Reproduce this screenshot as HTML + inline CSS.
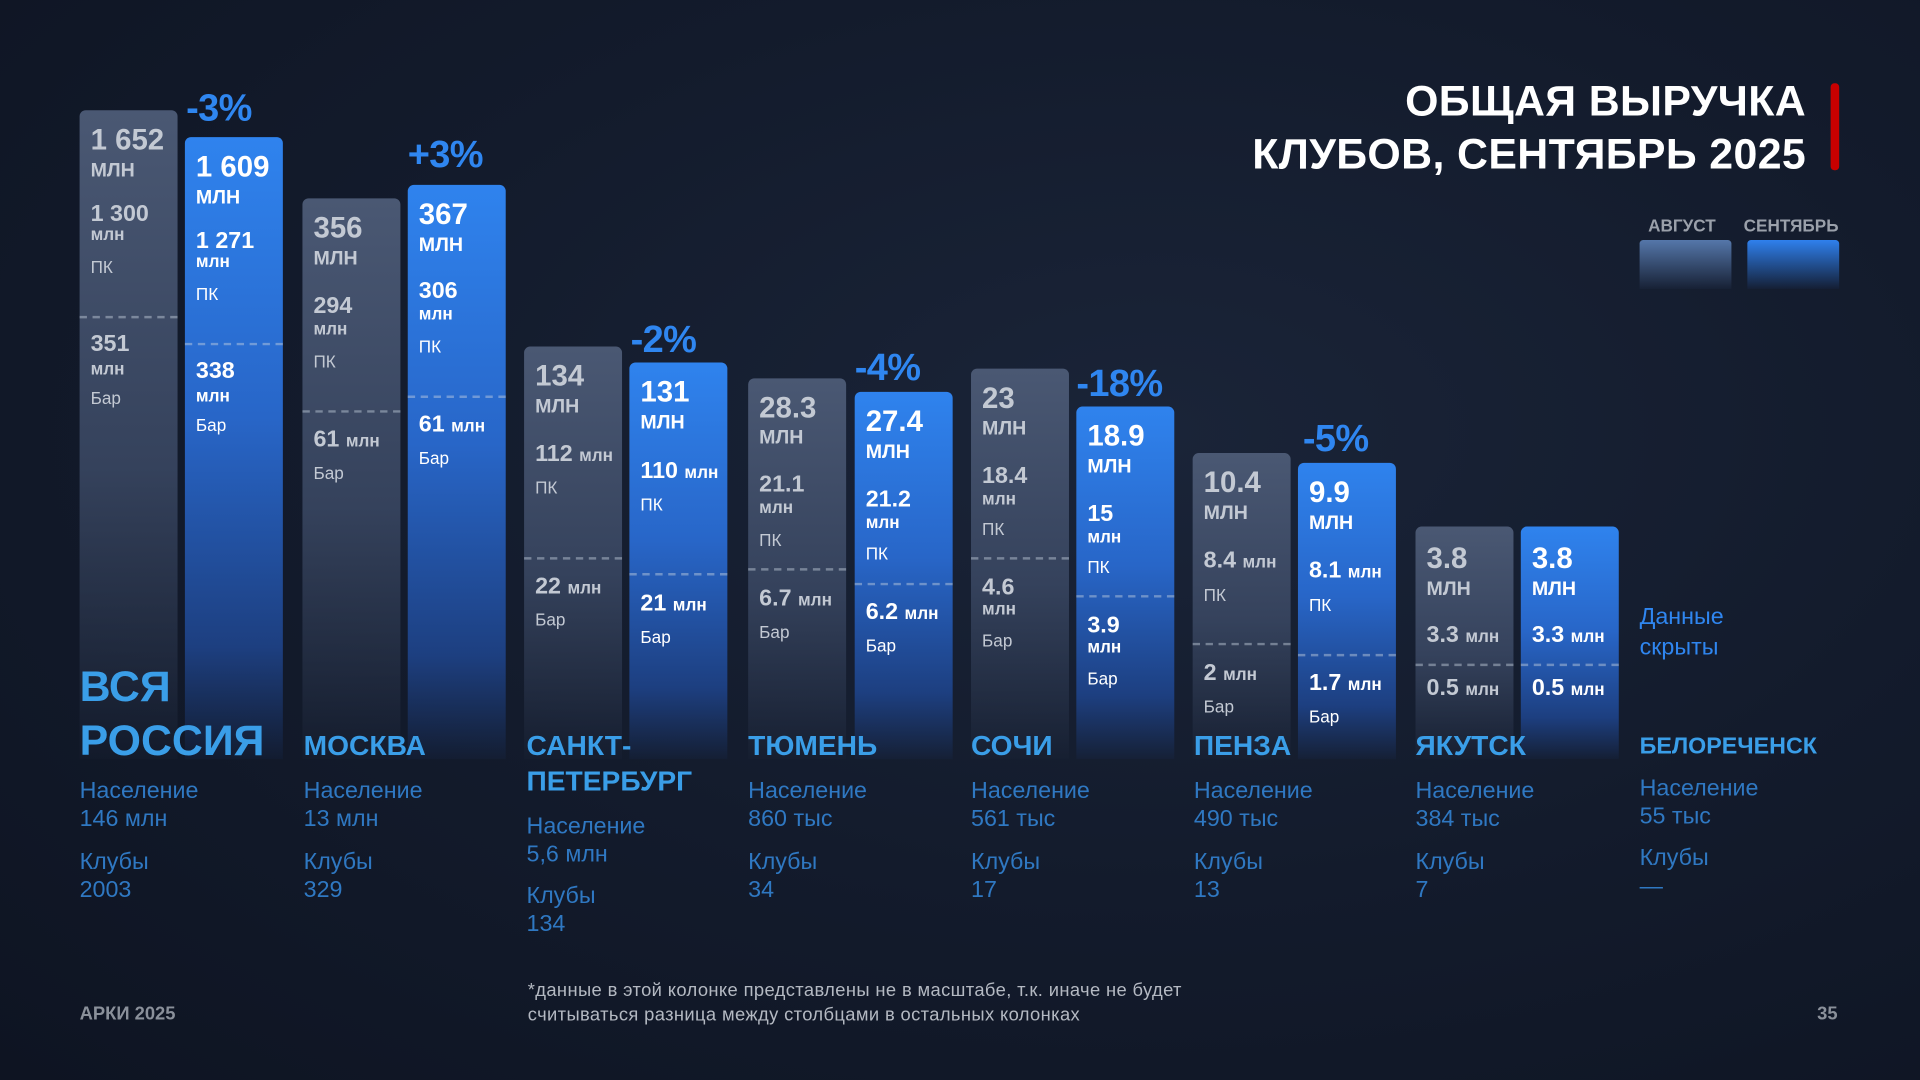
<!DOCTYPE html>
<html><head><meta charset="utf-8"><style>
html,body{margin:0;padding:0;width:1920px;height:1080px;overflow:hidden;background:#111827}
#w{position:absolute;left:0;top:0;width:1568px;height:882px;transform:scale(1.22449);transform-origin:0 0;font-family:"Liberation Sans",sans-serif;
background:radial-gradient(ellipse at 60% 40%,#1a2438 0%,#131b2c 50%,#0e1422 100%)}
.t{position:absolute;transform:translateY(-50%);line-height:1;white-space:nowrap;font-weight:bold}
.g{color:#c3c9d3}.b{color:#fff}
.v{font-size:24px}.u{font-size:16px}.s{font-size:19px}.m{font-size:14px}.r{font-size:14px;font-weight:normal}
.bar{position:absolute;width:80px;border-radius:5px 5px 0 0;bottom:262px}
.gb{background:linear-gradient(#4a5873,#35425c 55%,rgba(30,40,60,0.15))}
.bb{background:linear-gradient(#2f83ee,#2866c8 45%,#1d3f80 82%,rgba(25,50,100,0.12))}
.d{position:absolute;width:80px;height:0;border-top:2px dashed rgba(200,210,225,0.45)}
.p{position:absolute;transform:translateY(-50%);line-height:1;font-weight:bold;font-size:31px;color:#2f86f0;letter-spacing:-0.5px}
.c{position:absolute;transform:translateY(-50%);line-height:1;font-weight:bold;color:#3a9ee8;font-size:23px;white-space:nowrap}
.n{position:absolute;transform:translateY(-50%);line-height:1;color:#2f78c2;font-size:19px;white-space:nowrap}
</style></head><body><div id="w">
<div class="t b" style="right:93px;top:83px;font-size:35px;letter-spacing:0.3px">ОБЩАЯ ВЫРУЧКА</div>
<div class="t b" style="right:93px;top:126px;font-size:35px;letter-spacing:0.3px">КЛУБОВ, СЕНТЯБРЬ 2025</div>
<div style="position:absolute;left:1495px;top:68px;width:7px;height:71px;background:#c80000;border-radius:3px"></div>
<div class="t" style="left:1346px;top:184px;font-size:14px;color:#9aa0aa">АВГУСТ</div>
<div class="t" style="left:1424px;top:184px;font-size:14px;color:#9aa0aa">СЕНТЯБРЬ</div>
<div style="position:absolute;left:1339px;top:196px;width:75px;height:40px;border-radius:3px 3px 0 0;background:linear-gradient(#5577aa,rgba(40,60,100,0.1))"></div>
<div style="position:absolute;left:1427px;top:196px;width:75px;height:40px;border-radius:3px 3px 0 0;background:linear-gradient(#2f80ed,rgba(25,50,110,0.1))"></div>

<div class="bar gb" style="left:65px;top:90px"></div><div class="bar bb" style="left:151px;top:112px"></div>
<div class="bar gb" style="left:247px;top:162px"></div><div class="bar bb" style="left:333px;top:151px"></div>
<div class="bar gb" style="left:428px;top:283px"></div><div class="bar bb" style="left:514px;top:296px"></div>
<div class="bar gb" style="left:611px;top:309px"></div><div class="bar bb" style="left:698px;top:320px"></div>
<div class="bar gb" style="left:793px;top:301px"></div><div class="bar bb" style="left:879px;top:332px"></div>
<div class="bar gb" style="left:974px;top:370px"></div><div class="bar bb" style="left:1060px;top:378px"></div>
<div class="bar gb" style="left:1156px;top:430px"></div><div class="bar bb" style="left:1242px;top:430px"></div>

<div class="t g v" style="left:74px;top:115px">1 652</div><div class="t g u" style="left:74px;top:140px">МЛН</div>
<div class="t g s" style="left:74px;top:175px">1 300</div><div class="t g m" style="left:74px;top:191px">млн</div>
<div class="t g r" style="left:74px;top:218px">ПК</div><div class="d" style="left:65px;top:258px"></div>
<div class="t g s" style="left:74px;top:281px">351</div><div class="t g m" style="left:74px;top:301px">млн</div><div class="t g r" style="left:74px;top:325px">Бар</div>
<div class="p" style="left:152px;top:88px">-3%</div>
<div class="t b v" style="left:160px;top:137px">1 609</div><div class="t b u" style="left:160px;top:162px">МЛН</div>
<div class="t b s" style="left:160px;top:197px">1 271</div><div class="t b m" style="left:160px;top:213px">млн</div>
<div class="t b r" style="left:160px;top:240px">ПК</div><div class="d" style="left:151px;top:280px"></div>
<div class="t b s" style="left:160px;top:303px">338</div><div class="t b m" style="left:160px;top:323px">млн</div><div class="t b r" style="left:160px;top:347px">Бар</div>
<div class="t g v" style="left:256px;top:187px">356</div><div class="t g u" style="left:256px;top:212px">МЛН</div>
<div class="t g s" style="left:256px;top:250px">294</div><div class="t g m" style="left:256px;top:268px">млн</div>
<div class="t g r" style="left:256px;top:295px">ПК</div><div class="d" style="left:247px;top:335px"></div>
<div class="t g s" style="left:256px;top:359px">61 <span style="font-size:14px">млн</span></div><div class="t g r" style="left:256px;top:386px">Бар</div>
<div class="p" style="left:333px;top:126px">+3%</div>
<div class="t b v" style="left:342px;top:176px">367</div><div class="t b u" style="left:342px;top:201px">МЛН</div>
<div class="t b s" style="left:342px;top:238px">306</div><div class="t b m" style="left:342px;top:256px">млн</div>
<div class="t b r" style="left:342px;top:283px">ПК</div><div class="d" style="left:333px;top:323px"></div>
<div class="t b s" style="left:342px;top:347px">61 <span style="font-size:14px">млн</span></div><div class="t b r" style="left:342px;top:374px">Бар</div>
<div class="t g v" style="left:437px;top:308px">134</div><div class="t g u" style="left:437px;top:333px">МЛН</div>
<div class="t g s" style="left:437px;top:371px">112 <span style="font-size:14px">млн</span></div>
<div class="t g r" style="left:437px;top:398px">ПК</div><div class="d" style="left:428px;top:455px"></div>
<div class="t g s" style="left:437px;top:479px">22 <span style="font-size:14px">млн</span></div><div class="t g r" style="left:437px;top:506px">Бар</div>
<div class="p" style="left:515px;top:277px">-2%</div>
<div class="t b v" style="left:523px;top:321px">131</div><div class="t b u" style="left:523px;top:346px">МЛН</div>
<div class="t b s" style="left:523px;top:385px">110 <span style="font-size:14px">млн</span></div>
<div class="t b r" style="left:523px;top:412px">ПК</div><div class="d" style="left:514px;top:468px"></div>
<div class="t b s" style="left:523px;top:493px">21 <span style="font-size:14px">млн</span></div><div class="t b r" style="left:523px;top:520px">Бар</div>
<div class="t g v" style="left:620px;top:334px">28.3</div><div class="t g u" style="left:620px;top:358px">МЛН</div>
<div class="t g s" style="left:620px;top:396px">21.1</div><div class="t g m" style="left:620px;top:414px">млн</div>
<div class="t g r" style="left:620px;top:441px">ПК</div><div class="d" style="left:611px;top:464px"></div>
<div class="t g s" style="left:620px;top:489px">6.7 <span style="font-size:14px">млн</span></div><div class="t g r" style="left:620px;top:516px">Бар</div>
<div class="p" style="left:698px;top:300px">-4%</div>
<div class="t b v" style="left:707px;top:345px">27.4</div><div class="t b u" style="left:707px;top:370px">МЛН</div>
<div class="t b s" style="left:707px;top:408px">21.2</div><div class="t b m" style="left:707px;top:426px">млн</div>
<div class="t b r" style="left:707px;top:452px">ПК</div><div class="d" style="left:698px;top:476px"></div>
<div class="t b s" style="left:707px;top:500px">6.2 <span style="font-size:14px">млн</span></div><div class="t b r" style="left:707px;top:527px">Бар</div>
<div class="t g v" style="left:802px;top:326px">23</div><div class="t g u" style="left:802px;top:351px">МЛН</div>
<div class="t g s" style="left:802px;top:389px">18.4</div><div class="t g m" style="left:802px;top:407px">млн</div>
<div class="t g r" style="left:802px;top:432px">ПК</div><div class="d" style="left:793px;top:455px"></div>
<div class="t g s" style="left:802px;top:480px">4.6</div><div class="t g m" style="left:802px;top:497px">млн</div><div class="t g r" style="left:802px;top:523px">Бар</div>
<div class="p" style="left:879px;top:313px">-18%</div>
<div class="t b v" style="left:888px;top:357px">18.9</div><div class="t b u" style="left:888px;top:382px">МЛН</div>
<div class="t b s" style="left:888px;top:420px">15</div><div class="t b m" style="left:888px;top:438px">млн</div>
<div class="t b r" style="left:888px;top:463px">ПК</div><div class="d" style="left:879px;top:486px"></div>
<div class="t b s" style="left:888px;top:511px">3.9</div><div class="t b m" style="left:888px;top:528px">млн</div><div class="t b r" style="left:888px;top:554px">Бар</div>
<div class="t g v" style="left:983px;top:395px">10.4</div><div class="t g u" style="left:983px;top:420px">МЛН</div>
<div class="t g s" style="left:983px;top:458px">8.4 <span style="font-size:14px">млн</span></div>
<div class="t g r" style="left:983px;top:486px">ПК</div><div class="d" style="left:974px;top:525px"></div>
<div class="t g s" style="left:983px;top:550px">2 <span style="font-size:14px">млн</span></div><div class="t g r" style="left:983px;top:577px">Бар</div>
<div class="p" style="left:1064px;top:358px">-5%</div>
<div class="t b v" style="left:1069px;top:403px">9.9</div><div class="t b u" style="left:1069px;top:428px">МЛН</div>
<div class="t b s" style="left:1069px;top:466px">8.1 <span style="font-size:14px">млн</span></div>
<div class="t b r" style="left:1069px;top:494px">ПК</div><div class="d" style="left:1060px;top:534px"></div>
<div class="t b s" style="left:1069px;top:558px">1.7 <span style="font-size:14px">млн</span></div><div class="t b r" style="left:1069px;top:585px">Бар</div>
<div class="t g v" style="left:1165px;top:457px">3.8</div><div class="t g u" style="left:1165px;top:482px">МЛН</div>
<div class="t g s" style="left:1165px;top:519px">3.3 <span style="font-size:14px">млн</span></div>
<div class="d" style="left:1156px;top:542px"></div>
<div class="t g s" style="left:1165px;top:562px">0.5 <span style="font-size:14px">млн</span></div>
<div class="t b v" style="left:1251px;top:457px">3.8</div><div class="t b u" style="left:1251px;top:482px">МЛН</div>
<div class="t b s" style="left:1251px;top:519px">3.3 <span style="font-size:14px">млн</span></div>
<div class="d" style="left:1242px;top:542px"></div>
<div class="t b s" style="left:1251px;top:562px">0.5 <span style="font-size:14px">млн</span></div>
<div class="t" style="left:1339px;top:504px;font-size:19px;color:#2f86f0;font-weight:normal">Данные</div>
<div class="t" style="left:1339px;top:529px;font-size:19px;color:#2f86f0;font-weight:normal">скрыты</div>

<div class="c" style="left:65px;top:561px;font-size:35px">ВСЯ</div>
<div class="c" style="left:65px;top:605px;font-size:35px">РОССИЯ</div>
<div class="n" style="left:65px;top:646px">Население</div><div class="n" style="left:65px;top:669px">146 млн</div>
<div class="n" style="left:65px;top:704px">Клубы</div><div class="n" style="left:65px;top:727px">2003</div>
<div class="c" style="left:248px;top:609px">МОСКВА</div>
<div class="n" style="left:248px;top:646px">Население</div><div class="n" style="left:248px;top:669px">13 млн</div>
<div class="n" style="left:248px;top:704px">Клубы</div><div class="n" style="left:248px;top:727px">329</div>
<div class="c" style="left:430px;top:609px">САНКТ-</div><div class="c" style="left:430px;top:638px">ПЕТЕРБУРГ</div>
<div class="n" style="left:430px;top:675px">Население</div><div class="n" style="left:430px;top:698px">5,6 млн</div>
<div class="n" style="left:430px;top:732px">Клубы</div><div class="n" style="left:430px;top:755px">134</div>
<div class="c" style="left:611px;top:609px">ТЮМЕНЬ</div>
<div class="n" style="left:611px;top:646px">Население</div><div class="n" style="left:611px;top:669px">860 тыс</div>
<div class="n" style="left:611px;top:704px">Клубы</div><div class="n" style="left:611px;top:727px">34</div>
<div class="c" style="left:793px;top:609px">СОЧИ</div>
<div class="n" style="left:793px;top:646px">Население</div><div class="n" style="left:793px;top:669px">561 тыс</div>
<div class="n" style="left:793px;top:704px">Клубы</div><div class="n" style="left:793px;top:727px">17</div>
<div class="c" style="left:975px;top:609px">ПЕНЗА</div>
<div class="n" style="left:975px;top:646px">Население</div><div class="n" style="left:975px;top:669px">490 тыс</div>
<div class="n" style="left:975px;top:704px">Клубы</div><div class="n" style="left:975px;top:727px">13</div>
<div class="c" style="left:1156px;top:609px">ЯКУТСК</div>
<div class="n" style="left:1156px;top:646px">Население</div><div class="n" style="left:1156px;top:669px">384 тыс</div>
<div class="n" style="left:1156px;top:704px">Клубы</div><div class="n" style="left:1156px;top:727px">7</div>
<div class="c" style="left:1339px;top:610px;font-size:19px">БЕЛОРЕЧЕНСК</div>
<div class="n" style="left:1339px;top:644px">Население</div><div class="n" style="left:1339px;top:667px">55 тыс</div>
<div class="n" style="left:1339px;top:701px">Клубы</div><div class="n" style="left:1339px;top:724px">—</div>

<div class="t" style="left:65px;top:828px;font-size:15px;color:#8a909a">АРКИ 2025</div>
<div class="t" style="left:431px;top:809px;font-size:15px;letter-spacing:0.3px;color:#b4b9c2;font-weight:normal">*данные в этой колонке представлены не в масштабе, т.к. иначе не будет</div>
<div class="t" style="left:431px;top:829px;font-size:15px;letter-spacing:0.3px;color:#b4b9c2;font-weight:normal">считываться разница между столбцами в остальных колонках</div>
<div class="t" style="left:1484px;top:828px;font-size:15px;color:#8a909a">35</div>
</div></body></html>
